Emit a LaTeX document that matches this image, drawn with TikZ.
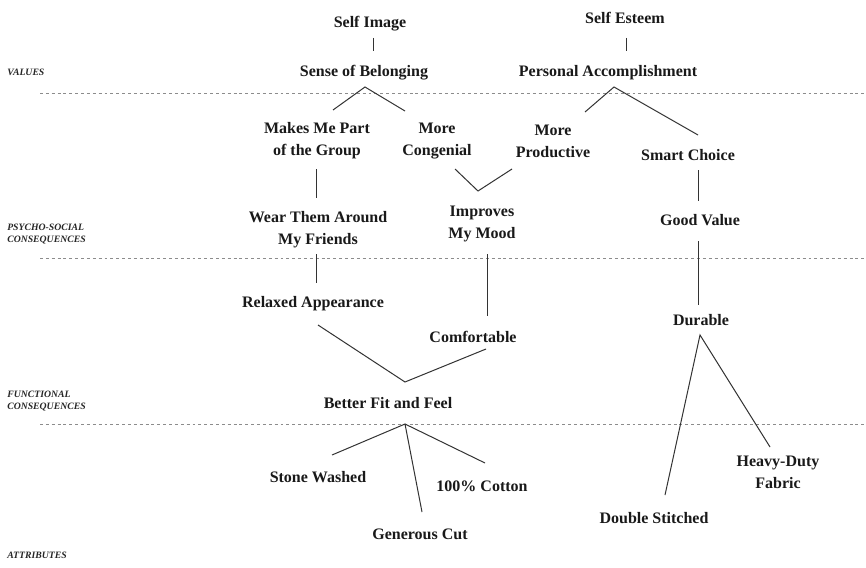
\documentclass[tikz,border=0pt]{standalone}
\usepackage{fontspec}
\setmainfont{Liberation Serif}
\begin{document}
\begin{tikzpicture}[x=0.75pt,y=-0.75pt,
  lbl/.style={font=\fontsize{12}{16.5}\selectfont\bfseries, align=center, inner sep=0pt, text=black!90},
  lvl/.style={font=\fontsize{7.3}{9}\selectfont\itshape\bfseries, align=left, anchor=west, inner sep=0pt, text=black!85},
  sep/.style={draw=black!45, line width=0.6pt, dash pattern=on 2.2pt off 2.2pt},
  conn/.style={draw=black!80, line width=0.75pt}]
\fill[white] (0,0) rectangle (866,567);
\useasboundingbox (0,0) rectangle (866,567);

% level labels
\node[lvl] (vals) at (7,72) {VALUES};
\node[lvl] (psy) at (7,234) {PSYCHO-SOCIAL\\CONSEQUENCES};
\node[lvl] (fun) at (7,401) {FUNCTIONAL\\CONSEQUENCES};
\node[lvl] (att) at (7,555) {ATTRIBUTES};

% separators
\coordinate (s1a) at (40,93);  \coordinate (s1b) at (866,93);
\coordinate (s2a) at (40,258); \coordinate (s2b) at (866,258);
\coordinate (s3a) at (40,424); \coordinate (s3b) at (866,424);
\draw[sep] (s1a) -- (s1b);
\draw[sep] (s2a) -- (s2b);
\draw[sep] (s3a) -- (s3b);

% nodes
\node[lbl] (selfimg) at (370,24) {Self Image};
\node[lbl] (selfest) at (625,18) {Self Esteem};
\node[lbl] (belong) at (364,73) {Sense of Belonging};
\node[lbl] (accomp) at (608,73) {Personal Accomplishment};
\node[lbl] (part) at (317,141) {Makes Me Part\\of the Group};
\node[lbl] (congen) at (437,141) {More\\Congenial};
\node[lbl] (product) at (553,141) {More\\Productive};
\node[lbl] (smart) at (688,155) {Smart Choice};
\node[lbl] (wear) at (318,230) {Wear Them Around\\My Friends};
\node[lbl] (mood) at (482,224) {Improves\\My Mood};
\node[lbl] (goodval) at (700,220) {Good Value};
\node[lbl] (relaxed) at (313,304) {Relaxed Appearance};
\node[lbl] (comfort) at (473,337) {Comfortable};
\node[lbl] (durable) at (701,320) {Durable};
\node[lbl] (better) at (388,403) {Better Fit and Feel};
\node[lbl] (stone) at (318,477) {Stone Washed};
\node[lbl] (cotton) at (482,486) {100\% Cotton};
\node[lbl] (generous) at (420,534) {Generous Cut};
\node[lbl] (heavy) at (778,472) {Heavy-Duty\\Fabric};
\node[lbl] (double) at (654,518) {Double Stitched};

% connector end points
\coordinate (a1) at (373,38);  \coordinate (a2) at (373,51);
\coordinate (b1) at (626,38);  \coordinate (b2) at (626,51);
\coordinate (c0) at (365,87);  \coordinate (c1) at (333,110); \coordinate (c2) at (405,111);
\coordinate (d0) at (614,87);  \coordinate (d1) at (585,112); \coordinate (d2) at (698,135);
\coordinate (e1) at (316,169); \coordinate (e2) at (316,198);
\coordinate (f1) at (455,169); \coordinate (f0) at (478,191); \coordinate (f2) at (512,169);
\coordinate (g1) at (698,170); \coordinate (g2) at (698,201);
\coordinate (h1) at (316,254); \coordinate (h2) at (316,283);
\coordinate (i1) at (487,254); \coordinate (i2) at (487,316);
\coordinate (j1) at (698,241); \coordinate (j2) at (698,305);
\coordinate (k1) at (318,325); \coordinate (k0) at (405,382); \coordinate (k2) at (486,349);
\coordinate (l0) at (405,424); \coordinate (l1) at (332,455); \coordinate (l2) at (422,512); \coordinate (l3) at (485,463);
\coordinate (m0) at (700,335); \coordinate (m1) at (665,495); \coordinate (m2) at (770,447);

\draw[conn] (a1) -- (a2);
\draw[conn] (b1) -- (b2);
\draw[conn] (c1) -- (c0) -- (c2);
\draw[conn] (d1) -- (d0) -- (d2);
\draw[conn] (e1) -- (e2);
\draw[conn] (f1) -- (f0) -- (f2);
\draw[conn] (g1) -- (g2);
\draw[conn] (h1) -- (h2);
\draw[conn] (i1) -- (i2);
\draw[conn] (j1) -- (j2);
\draw[conn] (k1) -- (k0) -- (k2);
\draw[conn] (l1) -- (l0) -- (l3);
\draw[conn] (l0) -- (l2);
\draw[conn] (m1) -- (m0) -- (m2);
\end{tikzpicture}
\end{document}
